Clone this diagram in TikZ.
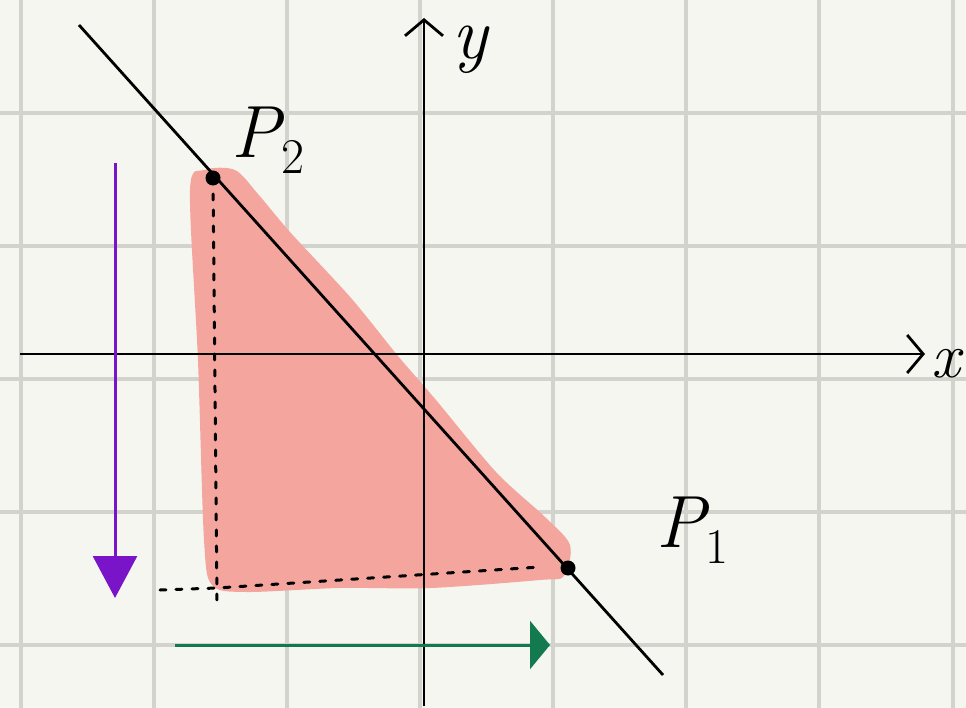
\documentclass[tikz,border=0pt]{standalone}
\usepackage{fontspec}
\usetikzlibrary{arrows.meta}
\definecolor{bg}{HTML}{F6F6F1}
\definecolor{gridc}{HTML}{D3D3CE}
\definecolor{pinkfill}{HTML}{F4A69E}
\definecolor{purp}{HTML}{7A14C8}
\definecolor{grn}{HTML}{137A50}
\newcommand{\subnum}[1]{\raisebox{-0.22em}{\fontsize{50}{50}\selectfont\upshape #1}}
\tikzset{
  gridline/.style={draw=gridc,line width=4pt},
  axisline/.style={draw=black,line width=2.8pt,-{Straight Barb[length=16pt,width=38pt,line width=2.8pt]}},
  mainline/.style={draw=black,line width=2.8pt},
  dotline/.style={draw=black,line width=3pt,dash pattern=on 6pt off 10pt,line cap=round},
  lbl/.style={font=\fontsize{74}{74}\selectfont\itshape,inner sep=0pt},
  dotpt/.style={circle,fill=black,inner sep=0pt,minimum size=15pt},
}
\begin{document}
\begin{tikzpicture}[x=1pt,y=-1pt]
\useasboundingbox (0,0) rectangle (966,708);
\fill[bg] (0,0) rectangle (966,708);
% grid
\foreach \gx in {21,154,287,420,553,686,819,953} \draw[gridline] (\gx,0) -- (\gx,708);
\foreach \gy in {113,246,379,512,645} \draw[gridline] (0,\gy) -- (966,\gy);
% pink area
\fill[pinkfill] plot[smooth cycle,tension=0.5] coordinates {
 (205,170) (235,170) (258,194) (290,232) (351,298) (398,356) (436,400)
 (496,472) (545,517) (570,545) (564,576) (540,580) (431,588) (339,588)
 (246,592) (212,585) (204,540) (198,361) (190,190)};
% dotted lines
\coordinate (P2) at (213,178);
\coordinate (P1) at (568,568);
\coordinate (C) at (217,588);
\coordinate (Cb) at (217,602);
\coordinate (Cl) at (160,590);
\coordinate (Hr) at (540,567);
\draw[dotline] (P2) -- (Cb);
\draw[dotline] (Cl) -- (C) -- (Hr);
% axes
\coordinate (xs) at (20,354);
\coordinate (xe) at (925,354);
\coordinate (ys) at (424,706);
\coordinate (ye) at (424,18);
\draw[axisline] (xs) -- (xe);
\draw[axisline] (ys) -- (ye);
\node[lbl,font=\fontsize{64}{64}\selectfont\itshape] (xl) at (946,364) {x};
\node[lbl] (yl) at (470,50) {y};
% diagonal line
\coordinate (La) at (79,25);
\coordinate (Lb) at (663,675);
\draw[mainline] (La) -- (Lb);
\node[dotpt] (p2) at (P2) {};
\node[dotpt] (p1) at (P1) {};
\node[lbl] (p2l) at (268,140) {P\subnum{2}};
\node[lbl] (p1l) at (692,530) {P\subnum{1}};
% purple arrow
\coordinate (pa) at (115,163);
\coordinate (pb) at (115,598);
\draw[purp,line width=3pt,-{Triangle[length=42pt,width=44pt]}] (pa) -- (pb);
% green arrow
\coordinate (ga) at (175,645);
\coordinate (gb) at (550,645);
\draw[grn,line width=3pt,-{Triangle[length=20pt,width=48pt]}] (ga) -- (gb);
\end{tikzpicture}
\end{document}
